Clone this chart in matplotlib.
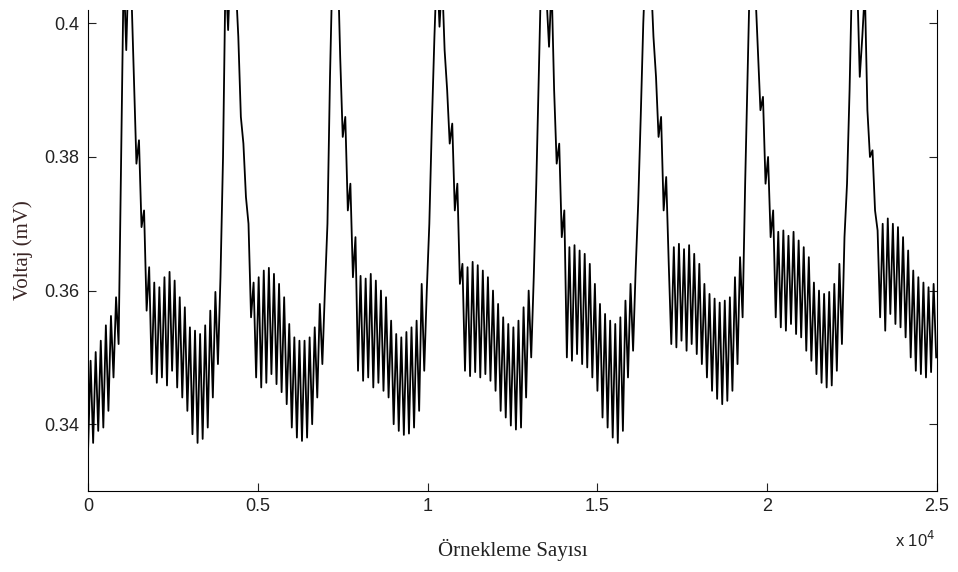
import matplotlib
matplotlib.use("Agg")
import matplotlib.pyplot as plt
import numpy as np
from matplotlib import rcParams
from matplotlib.ticker import FuncFormatter

# MATLAB-like look: Arial-ish ticks, Times-ish axis labels
rcParams['font.family'] = 'sans-serif'
rcParams['font.sans-serif'] = ['Liberation Sans', 'DejaVu Sans']
rcParams['font.size'] = 13

# Voltage readings (mV), one every 75 samples
lead_in = [0.3360, 0.3495, 0.3372, 0.3508, 0.3390, 0.3525, 0.3395, 0.3548, 0.3420, 0.3562,
           0.3470, 0.3590, 0.3520]
beat_1 = [0.3800, 0.4080, 0.3960, 0.4100, 0.4050, 0.3920, 0.3790, 0.3825, 0.3695, 0.3720,
          0.3570, 0.3635, 0.3475, 0.3612, 0.3462, 0.3605, 0.3470, 0.3620, 0.3458, 0.3628,
          0.3480, 0.3615, 0.3455, 0.3590, 0.3440, 0.3575, 0.3420, 0.3545, 0.3385, 0.3540,
          0.3372, 0.3535, 0.3378, 0.3548, 0.3395, 0.3570, 0.3440, 0.3598, 0.3490, 0.3620]
beat_2 = [0.3800, 0.4080, 0.3990, 0.4100, 0.4120, 0.4060, 0.3980, 0.3860, 0.3820, 0.3740,
          0.3700, 0.3560, 0.3612, 0.3470, 0.3620, 0.3455, 0.3630, 0.3462, 0.3634, 0.3475,
          0.3625, 0.3460, 0.3610, 0.3448, 0.3590, 0.3430, 0.3550, 0.3395, 0.3530, 0.3380,
          0.3525, 0.3375, 0.3525, 0.3380, 0.3530, 0.3400, 0.3545, 0.3440, 0.3580, 0.3490,
          0.3600]
beat_3 = [0.3700, 0.3920, 0.4090, 0.4030, 0.4100, 0.3950, 0.3830, 0.3860, 0.3720, 0.3760,
          0.3620, 0.3680, 0.3480, 0.3622, 0.3465, 0.3618, 0.3470, 0.3625, 0.3455, 0.3615,
          0.3462, 0.3600, 0.3450, 0.3590, 0.3440, 0.3555, 0.3400, 0.3535, 0.3390, 0.3530,
          0.3384, 0.3538, 0.3386, 0.3545, 0.3395, 0.3555, 0.3420, 0.3610, 0.3480, 0.3600]
beat_4 = [0.3700, 0.3850, 0.3980, 0.4090, 0.3995, 0.4070, 0.3960, 0.3900, 0.3820, 0.3850,
          0.3720, 0.3760, 0.3610, 0.3640, 0.3480, 0.3635, 0.3472, 0.3643, 0.3478, 0.3638,
          0.3470, 0.3630, 0.3475, 0.3620, 0.3465, 0.3600, 0.3450, 0.3580, 0.3420, 0.3560,
          0.3410, 0.3550, 0.3398, 0.3545, 0.3392, 0.3555, 0.3395, 0.3575, 0.3440, 0.3600,
          0.3500, 0.3620]
beat_5 = [0.3760, 0.3930, 0.4090, 0.4120, 0.4040, 0.3965, 0.4060, 0.3900, 0.3790, 0.3820,
          0.3680, 0.3720, 0.3500, 0.3665, 0.3495, 0.3668, 0.3505, 0.3660, 0.3490, 0.3655,
          0.3485, 0.3640, 0.3470, 0.3610, 0.3450, 0.3580, 0.3410, 0.3565, 0.3395, 0.3555,
          0.3380, 0.3550, 0.3372, 0.3560, 0.3390, 0.3585, 0.3470, 0.3610, 0.3510, 0.3630]
beat_6 = [0.3730, 0.3860, 0.4000, 0.4100, 0.4130, 0.4070, 0.3980, 0.3920, 0.3830, 0.3860,
          0.3720, 0.3770, 0.3640, 0.3520, 0.3665, 0.3515, 0.3670, 0.3525, 0.3662, 0.3510,
          0.3668, 0.3520, 0.3655, 0.3505, 0.3640, 0.3490, 0.3610, 0.3470, 0.3595, 0.3450,
          0.3588, 0.3438, 0.3582, 0.3430, 0.3585, 0.3435, 0.3590, 0.3450, 0.3620, 0.3490,
          0.3650, 0.3560]
beat_7 = [0.3760, 0.3930, 0.4100, 0.4140, 0.4050, 0.3960, 0.3870, 0.3890, 0.3760, 0.3800,
          0.3680, 0.3720, 0.3560, 0.3688, 0.3545, 0.3690, 0.3540, 0.3682, 0.3550, 0.3688,
          0.3535, 0.3675, 0.3530, 0.3665, 0.3510, 0.3650, 0.3495, 0.3612, 0.3475, 0.3600,
          0.3462, 0.3595, 0.3455, 0.3598, 0.3458, 0.3610, 0.3480, 0.3640, 0.3520, 0.3680]
beat_8 = [0.3760, 0.3900, 0.4080, 0.4130, 0.4060, 0.3920, 0.3980, 0.4050, 0.3870, 0.3800,
          0.3810, 0.3720, 0.3690, 0.3560, 0.3700, 0.3540, 0.3708, 0.3565, 0.3700, 0.3550,
          0.3695, 0.3545, 0.3680, 0.3530, 0.3660, 0.3500, 0.3630, 0.3480, 0.3620, 0.3475,
          0.3612, 0.3470, 0.3605, 0.3478, 0.3610, 0.3500]

sample_step = 75
x_ticks = [0, 5000, 10000, 15000, 20000, 25000]
y_ticks = [0.34, 0.36, 0.38, 0.40]

voltage = np.concatenate([lead_in, beat_1, beat_2, beat_3, beat_4,
                          beat_5, beat_6, beat_7, beat_8])
samples = np.arange(len(voltage)) * sample_step

fig = plt.figure(figsize=(9.58, 5.72), dpi=100)
ax = fig.add_axes([0.0919, 0.1416, 0.8862, 0.8409])

ax.plot(samples, voltage, color='black', linewidth=1.3)

ax.set_xlim(0, 25000)
ax.set_ylim(0.33, 0.402)
ax.set_xticks(x_ticks)
ax.set_yticks(y_ticks)
ax.xaxis.set_major_formatter(FuncFormatter(lambda v, p: f"{v / 1e4:g}"))
ax.yaxis.set_major_formatter(FuncFormatter(lambda v, p: f"{v:g}"))

# box with inward ticks on both sides, top edge is cut off in the original
ax.spines['top'].set_visible(False)
ax.tick_params(axis='both', direction='in', length=6, width=0.8, colors='#222222')
ax.tick_params(axis='y', right=True, pad=6)
ax.tick_params(axis='x', pad=5)

ax.set_xlabel("Örnekleme Sayısı", family='Liberation Serif', fontsize=15,
              color='#222222', labelpad=17)
ax.set_ylabel("Voltaj (mV)", family='Liberation Serif', fontsize=15,
              color='#3a2626', labelpad=8)

fig.text(0.934, 0.043, r"x 10$^{4}$", fontsize=12, color='#222222',
         ha='left', va='baseline')

fig.savefig("out.png", dpi=100)
